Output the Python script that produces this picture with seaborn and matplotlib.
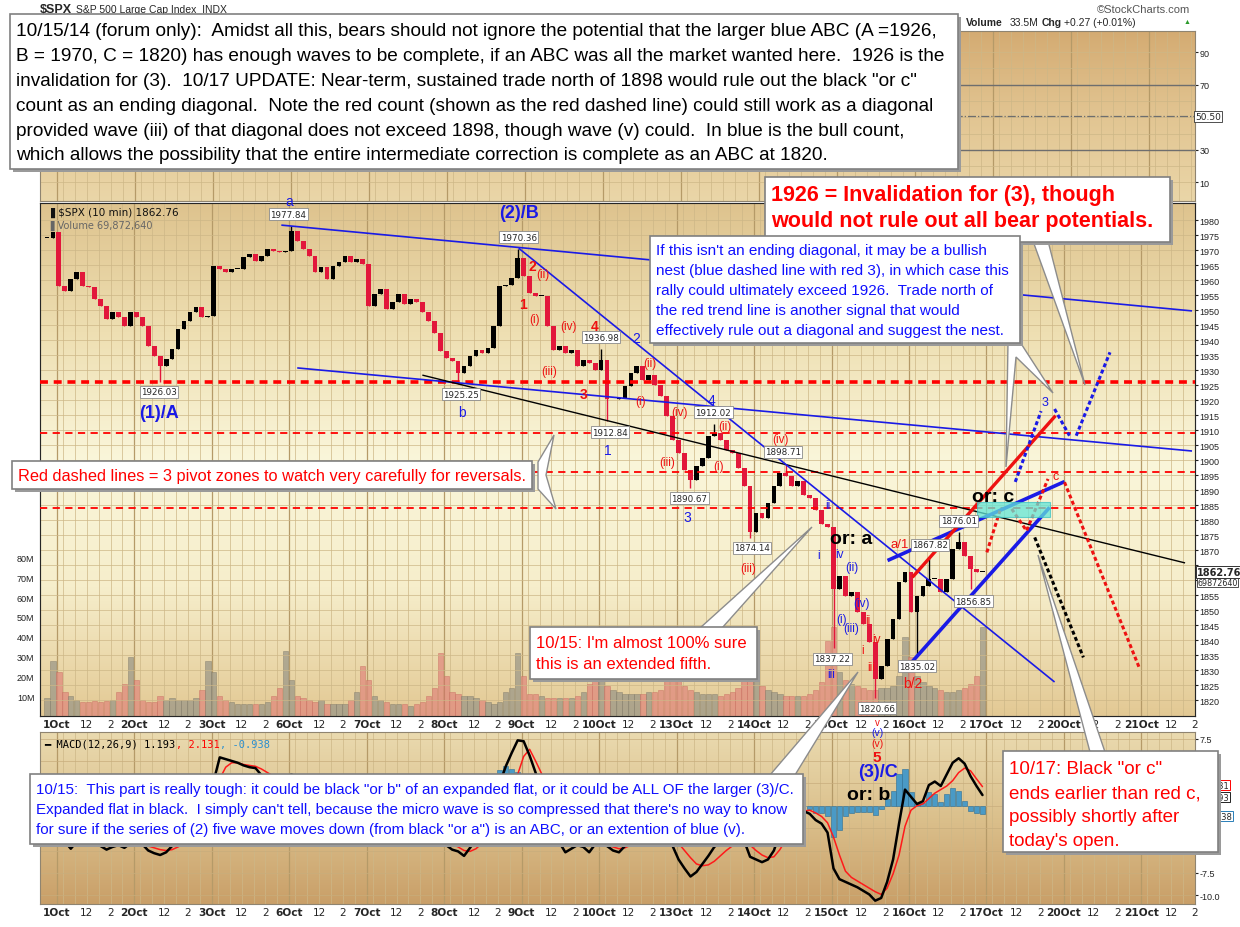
import numpy as np
import pandas as pd
import matplotlib
matplotlib.use("Agg")
import matplotlib.pyplot as plt
import seaborn as sns
from matplotlib.colors import LinearSegmentedColormap
from matplotlib.patches import Rectangle, Polygon

W, H = 1240, 928
BLUE = "#1a1ae6"
RED = "#ee1111"
ARIAL = ["Liberation Sans", "DejaVu Sans"]

# ---- data: 10-min SPX, one sample per 3 bars (13 per session) ----
day_labels = ["1Oct", "2Oct", "3Oct", "6Oct", "7Oct", "8Oct", "9Oct", "10Oct",
              "13Oct", "14Oct", "15Oct", "16Oct", "17Oct", "20Oct", "21Oct"]

close_sep30 = [1974.0, 1976.0]
close_oct01 = [1958.1, 1956.4, 1960.3, 1962.6, 1958.1, 1957.6, 1953.7, 1951.4, 1947.0, 1949.2, 1947.6, 1944.8, 1949.2]
close_oct02 = [1947.6, 1944.8, 1938.1, 1934.8, 1931.4, 1933.7, 1937.0, 1943.7, 1946.4, 1949.2, 1950.9, 1947.6, 1948.1]
close_oct03 = [1964.8, 1963.7, 1962.6, 1963.7, 1963.7, 1967.6, 1968.7, 1966.4, 1968.1, 1970.3, 1969.8, 1969.2, 1969.8]
close_oct06 = [1976.4, 1973.1, 1970.3, 1968.1, 1962.6, 1964.2, 1960.3, 1964.8, 1965.9, 1968.1, 1965.9, 1967.0, 1965.3]
close_oct07 = [1951.4, 1955.3, 1957.0, 1950.3, 1952.6, 1955.3, 1952.0, 1953.7, 1952.6, 1949.2, 1946.3, 1942.4, 1936.3]
close_oct08 = [1934.0, 1932.9, 1929.0, 1931.3, 1934.6, 1936.8, 1935.7, 1937.4, 1944.6, 1957.9, 1958.5, 1960.7, 1967.4]
close_oct09 = [1961.3, 1955.7, 1954.6, 1954.6, 1944.6, 1936.8, 1937.9, 1935.7, 1936.8, 1931.3, 1933.5, 1932.4, 1930.1]
close_oct10 = [1933.5, 1920.2, 1920.2, 1920.7, 1924.6, 1929.0, 1931.3, 1926.8, 1928.5, 1925.1, 1921.3, 1914.6, 1906.8]
close_oct13 = [1902.4, 1896.8, 1893.5, 1898.0, 1900.7, 1907.9, 1909.0, 1906.8, 1903.5, 1902.4, 1897.4, 1891.3, 1876.0]
close_oct14 = [1882.4, 1880.7, 1885.7, 1891.3, 1895.7, 1894.6, 1891.3, 1892.9, 1888.5, 1887.4, 1883.2, 1878.7, 1877.6]
close_oct15 = [1857.0, 1861.5, 1854.8, 1856.0, 1849.3, 1845.4, 1839.3, 1827.0, 1831.5, 1840.4, 1847.0, 1859.3, 1862.6]
close_oct16 = [1849.3, 1854.8, 1858.1, 1860.4, 1860.4, 1856.0, 1860.4, 1870.4, 1872.6, 1868.1, 1863.7, 1862.6, 1862.76]

# volume in millions
vol_sep30 = [9, 28]
vol_oct01 = [22, 12, 10, 8, 7, 7, 7.5, 7, 7.5, 8, 12, 16, 30]
vol_oct02 = [18, 8, 7, 7, 10, 8, 9, 8, 8, 8, 9, 13, 28]
vol_oct03 = [22, 10, 8, 7, 6, 6, 6, 6, 6, 7, 10, 14, 33]
vol_oct06 = [18, 10, 9, 8, 7, 8, 6, 6, 6, 6, 8, 12, 25]
vol_oct07 = [18, 10, 8, 7, 6, 6, 6, 5, 6, 7, 10, 14, 32]
vol_oct08 = [20, 12, 11, 10, 10, 9, 8, 7, 6, 7, 12, 14, 32]
vol_oct09 = [20, 11, 11, 10, 9, 9, 9, 9, 9, 10, 12, 16, 32]
vol_oct10 = [25, 15, 13, 12, 11, 11, 11, 11, 12, 12, 13, 18, 35]
vol_oct13 = [22, 15, 13, 12, 11, 11, 11, 10, 11, 12, 14, 18, 40]
vol_oct14 = [25, 15, 13, 12, 11, 10, 10, 10, 10, 11, 13, 17, 38]
vol_oct15 = [45, 22, 18, 16, 15, 14, 13, 13, 14, 14, 15, 20, 40]
vol_oct16 = [30, 20, 17, 15, 14, 13, 12, 12, 13, 14, 16, 20, 45]

macd_sep30 = [1.5, 2.0]
macd_oct01 = [-2.0, -4.0, -4.8, -4.0, -3.5, -3.6, -3.9, -4.5, -4.9, -4.6, -4.4, -4.7, -4.2]
macd_oct02 = [-4.0, -4.3, -5.0, -5.3, -5.5, -5.2, -4.5, -3.5, -2.5, -1.5, -0.8, -0.6, -0.4]
macd_oct03 = [2.8, 5.4, 5.2, 5.0, 4.8, 4.5, 4.3, 4.2, 3.4, 3.1, 3.0, 2.8, 2.8]
macd_oct06 = [3.5, 3.2, 2.6, 1.8, 0.6, 0.0, -0.8, -0.6, -0.3, 0.2, 0.2, 0.3, 0.1]
macd_oct07 = [-2.0, -2.5, -2.6, -3.0, -3.0, -2.8, -2.9, -2.9, -2.9, -3.1, -3.3, -3.7, -4.2]
macd_oct08 = [-4.4, -4.9, -5.1, -5.6, -4.7, -3.8, -2.8, -2.2, -0.5, 2.5, 4.4, 5.9, 7.3]
macd_oct09 = [7.2, 5.6, 3.7, 1.5, -1.0, -3.0, -4.1, -5.2, -4.8, -4.4, -4.6, -5.2, -4.3]
macd_oct10 = [-3.8, -4.5, -5.0, -5.2, -4.5, -3.5, -2.5, -2.2, -1.8, -2.0, -2.6, -3.6, -4.5]
macd_oct13 = [-6.0, -7.0, -7.9, -7.4, -6.5, -5.6, -4.6, -4.0, -3.8, -3.6, -3.4, -3.9, -5.7]
macd_oct14 = [-6.0, -6.3, -6.0, -5.0, -3.0, -1.5, -0.4, 0.0, -0.6, -0.9, -1.6, -2.0, -3.0]
macd_oct15 = [-7.0, -8.2, -8.5, -8.8, -9.1, -9.5, -9.9, -10.6, -10.3, -8.5, -6.0, -2.0, 1.8]
macd_oct16 = [1.0, 0.2, 0.5, 2.3, 2.7, 2.2, 3.5, 4.8, 5.3, 4.7, 3.3, 2.2, 1.193]

sig_sep30 = [0.8, 1.1]
sig_oct01 = [0.4, -0.5, -1.5, -2.2, -2.7, -3.0, -3.3, -3.6, -4.0, -4.2, -4.3, -4.4, -4.4]
sig_oct02 = [-4.3, -4.3, -4.5, -4.7, -4.9, -5.0, -4.9, -4.6, -4.2, -3.6, -3.0, -2.5, -2.1]
sig_oct03 = [0.5, 3.0, 4.3, 4.8, 4.8, 4.6, 4.5, 4.4, 4.1, 3.7, 3.3, 3.0, 2.8]
sig_oct06 = [3.0, 3.0, 2.9, 2.6, 2.0, 1.5, 0.8, 0.3, 0.0, -0.1, 0.0, 0.1, 0.1]
sig_oct07 = [-0.4, -1.1, -1.7, -2.2, -2.6, -2.7, -2.8, -2.8, -2.9, -2.9, -3.0, -3.3, -3.6]
sig_oct08 = [-4.0, -4.3, -4.6, -5.0, -5.1, -4.8, -4.2, -3.6, -2.8, -1.5, 0.0, 1.8, 3.5]
sig_oct09 = [5.5, 6.3, 5.0, 3.6, 2.0, 0.3, -1.2, -2.5, -3.3, -3.8, -4.1, -4.4, -4.5]
sig_oct10 = [-4.4, -4.4, -4.6, -4.8, -4.7, -4.4, -3.9, -3.4, -3.0, -2.7, -2.6, -2.9, -3.5]
sig_oct13 = [-4.2, -5.0, -5.8, -6.5, -6.7, -6.6, -6.2, -5.6, -5.0, -4.5, -4.1, -3.9, -4.4]
sig_oct14 = [-5.0, -5.5, -5.8, -5.7, -4.9, -3.8, -2.5, -1.3, -0.6, -0.5, -0.8, -1.2, -1.9]
sig_oct15 = [-3.5, -5.5, -7.3, -8.0, -8.4, -8.8, -9.2, -9.6, -9.9, -9.2, -7.6, -5.5, -2.3]
sig_oct16 = [-0.5, 0.0, 0.2, 0.8, 1.4, 1.8, 2.2, 2.8, 3.7, 4.2, 3.9, 3.0, 2.131]

# labelled extremes (bar index, price) used as candle wicks
extremes = [(117, 1977.84), (52.5, 1926.03), (232.5, 1970.36), (203.5, 1925.25),
            (274, 1936.98), (278.5, 1912.84), (330.5, 1912.02), (318.5, 1890.67),
            (366.5, 1898.71), (350, 1874.14), (390.5, 1837.22), (413, 1820.66),
            (438, 1867.82), (454, 1876.01), (433, 1835.02), (461.5, 1856.85)]

pivot_lines = [(1926, 2.6), (1909, 1.3), (1896, 1.3), (1884, 1.3)]

trend_lines = [
    ((113, 1978.3), (571.5, 1949.7), BLUE, 1.2),
    ((121, 1930.7), (571.5, 1903.0), BLUE, 1.2),
    ((184, 1928.3), (568, 1865.7), "black", 1.0),
    ((232.5, 1970.6), (502.3, 1826.0), BLUE, 1.2),
    ((418.2, 1866.5), (507.3, 1892.8), BLUE, 2.6),
    ((427.3, 1830.3), (499.8, 1884.2), BLUE, 2.6),
    ((430.7, 1860.9), (502.8, 1914.8), RED, 2.4),
]
proj_paths = [
    ([482.5, 495.5], [1892.7, 1916.3], BLUE),
    ([502.3, 509.8], [1917.0, 1908.1], BLUE),
    ([513.2, 530.2], [1908.1, 1935.9], BLUE),
    ([468.2, 474.8], [1869.2, 1883.1], RED),
    ([480.7, 488.2, 499.0], [1883.7, 1876.4, 1893.7], RED),
    ([507.3, 544.8], [1892.6, 1831.0], RED),
    ([492.3, 516.8], [1874.2, 1834.2], "black"),
]

wave_labels = [
    ("a", 117, 1986.3, BLUE, 10, "normal"), ("(2)/B", 232.5, 1982.5, BLUE, 13, "bold"),
    ("2", 239.5, 1964.7, RED, 10, "bold"), ("(ii)", 244.5, 1962, RED, 8.5, "normal"),
    ("1", 234.5, 1952, RED, 10, "bold"), ("(i)", 240.5, 1947, RED, 8.5, "normal"),
    ("(iv)", 257.5, 1944.7, RED, 8.5, "normal"), ("4", 270.5, 1944.7, RED, 10, "bold"),
    ("(iii)", 248, 1929.7, RED, 8.5, "normal"), ("2", 291.5, 1940.7, BLUE, 10, "normal"),
    ("(ii)", 298.5, 1932.3, RED, 8.5, "normal"), ("3", 265, 1922, RED, 10, "bold"),
    ("(i)", 294, 1919.7, RED, 8.5, "normal"), ("b", 204, 1916, BLUE, 10, "normal"),
    ("(1)/A", 51.5, 1916, BLUE, 13, "bold"), ("4", 329.5, 1920, BLUE, 10, "normal"),
    ("(ii)", 336.5, 1911.3, RED, 8.5, "normal"), ("(iv)", 313.5, 1916, RED, 8.5, "normal"),
    ("1", 277.5, 1903.3, BLUE, 10, "normal"), ("(iii)", 307.5, 1899.3, RED, 8.5, "normal"),
    ("(i)", 333, 1898, RED, 8.5, "normal"), ("(iv)", 364.5, 1907, RED, 8.5, "normal"),
    ("3", 317.5, 1881, BLUE, 10, "normal"), ("(iii)", 348, 1864, RED, 8.5, "normal"),
    ("ii", 388, 1885, BLUE, 8.5, "normal"), ("i", 383.5, 1868.3, BLUE, 8.5, "normal"),
    ("or: a", 400, 1873.7, "black", 14, "bold"), ("iv", 394, 1868.7, BLUE, 8.5, "normal"),
    ("(ii)", 400.5, 1864.3, BLUE, 8.5, "normal"), ("(i)", 395, 1847, BLUE, 8.5, "normal"),
    ("(iv)", 405, 1852.3, BLUE, 8.5, "normal"), ("ii", 408.5, 1846.7, RED, 8.5, "normal"),
    ("(iii)", 400, 1844, BLUE, 8.5, "normal"), ("iv", 412.5, 1840.3, RED, 8.5, "normal"),
    ("i", 405.5, 1836.7, RED, 8.5, "normal"), ("iii", 410, 1831, RED, 8.5, "normal"),
    ("iii", 390, 1828.7, BLUE, 8.5, "normal"), ("a/1", 424.3, 1872, RED, 9.5, "normal"),
    ("b/2", 431, 1825.7, RED, 10, "normal"), ("or: c", 471.5, 1888, "black", 14, "bold"),
    ("c", 503, 1894.7, RED, 9, "normal"), ("3", 497.5, 1919.3, BLUE, 9, "normal"),
]
price_tags = [("1977.84", 116.5, 1982), ("1970.36", 232.5, 1974.3), ("1936.98", 274, 1941),
              ("1925.25", 203.5, 1922), ("1926.03", 51.5, 1922.7), ("1912.02", 330.5, 1916),
              ("1912.84", 278.5, 1909.3), ("1898.71", 365.5, 1902.7), ("1890.67", 318.5, 1887.3),
              ("1874.14", 350, 1870.7), ("1837.22", 390.5, 1833.7), ("1820.66", 413, 1817.3),
              ("1867.82", 439.5, 1871.7), ("1876.01", 454, 1879.7), ("1856.85", 461.5, 1853),
              ("1835.02", 433, 1831.3)]
macd_labels = [("v", 413, 9.4, RED, 7, "normal"), ("(v)", 413, 8.2, BLUE, 7.5, "normal"),
               ("(v)", 413, 7.0, RED, 7.5, "normal"), ("5", 413, 5.4, RED, 11, "bold"),
               ("(3)/C", 413.5, 3.8, BLUE, 13, "bold"), ("or: b", 408.5, 1.2, "black", 14, "bold")]

# ---- assemble table ----
closes = [close_oct01, close_oct02, close_oct03, close_oct06, close_oct07, close_oct08,
          close_oct09, close_oct10, close_oct13, close_oct14, close_oct15, close_oct16]
vols = [vol_oct01, vol_oct02, vol_oct03, vol_oct06, vol_oct07, vol_oct08,
        vol_oct09, vol_oct10, vol_oct13, vol_oct14, vol_oct15, vol_oct16]
macds = [macd_oct01, macd_oct02, macd_oct03, macd_oct06, macd_oct07, macd_oct08,
         macd_oct09, macd_oct10, macd_oct13, macd_oct14, macd_oct15, macd_oct16]
sigs = [sig_oct01, sig_oct02, sig_oct03, sig_oct06, sig_oct07, sig_oct08,
        sig_oct09, sig_oct10, sig_oct13, sig_oct14, sig_oct15, sig_oct16]

bars = [-5, -2]
for d in range(12):
    bars += [39 * d + 3 * j + 1 for j in range(13)]
df = pd.DataFrame({
    "bar": bars,
    "close": close_sep30 + sum(closes, []),
    "volume": vol_sep30 + sum(vols, []),
    "macd": macd_sep30 + sum(macds, []),
    "signal": sig_sep30 + sum(sigs, []),
})
df["open"] = df["close"].shift(1).fillna(df["close"])
df["high"] = df[["open", "close"]].max(axis=1)
df["low"] = df[["open", "close"]].min(axis=1)
for b, p in extremes:
    k = (df["bar"] - b).abs().idxmin()
    df.loc[k, "high"] = max(df.loc[k, "high"], p)
    df.loc[k, "low"] = min(df.loc[k, "low"], p)
df["up"] = df["close"] >= df["open"]
df["hist"] = df["macd"] - df["signal"]

# ---- figure ----
sns.set_style("white")
plt.rcParams["font.family"] = ARIAL
fig = plt.figure(figsize=(W / 100, H / 100), dpi=100)


def rect(x0, y0, x1, y1):
    return [x0 / W, 1 - y1 / H, (x1 - x0) / W, (y1 - y0) / H]


def fp(x, y):
    return (x / W, 1 - y / H)


def gradient(axx, stops):
    cmap = LinearSegmentedColormap.from_list("g", stops)
    axx.imshow(np.linspace(0, 1, 256).reshape(-1, 1), aspect="auto", cmap=cmap,
               extent=(0, 1, 0, 1), transform=axx.transAxes, zorder=-10)


XMIN, XMAX = -8.5, 569
ax_rsi = fig.add_axes(rect(40, 32, 1195, 202))
ax_vol = fig.add_axes(rect(40, 204, 1195, 717))
ax = fig.add_axes(rect(40, 204, 1195, 717), sharex=ax_vol)
ax.patch.set_visible(False)
ax_macd = fig.add_axes(rect(40, 733, 1195, 905))

gradient(ax_rsi, ["#d4ab72", "#e2c592", "#ead6a8"])
gradient(ax_vol, ["#dec38e", "#eedfb2", "#faf6da", "#f6eecb", "#e3c994"])
gradient(ax_macd, ["#eadaaf", "#dbc08c", "#c99f68"])

ticks, tick_labels = [], []
for d, name in enumerate(day_labels):
    ticks += [39 * d, 39 * d + 15, 39 * d + 27]
    tick_labels += [name, "12", "2"]

for axx in (ax_rsi, ax_vol, ax_macd):
    for d in range(15):
        axx.axvline(39 * d, color="#b59a68", lw=0.9, zorder=-5)
        for off in (3, 9, 15, 21, 27, 33):
            axx.axvline(39 * d + off, color="#cdb787", lw=0.5, zorder=-5)
    for s in axx.spines.values():
        s.set_color("#8f8470")
        s.set_linewidth(0.8)
    axx.set_xlim(XMIN, XMAX)

# RSI panel (only its guide lines show)
ax_rsi.set_ylim(-1.4, 102.9)
for v in range(10, 100, 10):
    ax_rsi.axhline(v, color="#cdb787", lw=0.5, zorder=-5)
ax_rsi.axhline(70, color="#6e6e6e", lw=1.0)
ax_rsi.axhline(30, color="#6e6e6e", lw=1.0)
ax_rsi.axhline(50.5, color="#6e6e6e", lw=0.9, ls="-.")
ax_rsi.set_xticks([])
ax_rsi.yaxis.tick_right()
ax_rsi.set_yticks([90, 70, 30, 10])
ax_rsi.tick_params(axis="y", labelsize=6.5, length=2, pad=1, colors="#222222")
ax_rsi.text(1.0, 50.5, "50.50", transform=ax_rsi.get_yaxis_transform(), fontsize=6.5,
            family="DejaVu Sans", va="center", ha="left",
            bbox=dict(boxstyle="square,pad=0.12", fc="white", ec="#333333", lw=0.6))

# volume (bottom of price panel)
vol_colors = np.where(df["up"], "#9c9888", "#e08a7e")
ax_vol.bar(df["bar"], df["volume"], width=2.7, color=vol_colors, alpha=0.75,
           edgecolor=np.where(df["up"], "#7d7868", "#c86a5e"), linewidth=0.4, zorder=1)
ax_vol.set_ylim(0, 259)
ax_vol.set_yticks([10, 20, 30, 40, 50, 60, 70, 80])
ax_vol.set_yticklabels([f"{v}M" for v in range(10, 90, 10)])
ax_vol.tick_params(axis="y", labelsize=6.5, length=3, pad=1, colors="#222222")
ax_vol.set_xticks(ticks)
ax_vol.set_xticklabels(tick_labels)
ax_vol.tick_params(axis="x", length=0, pad=2, labelsize=7.6)

# price
for p in range(1820, 1985, 5):
    ax.axhline(p, color="#cdb787", lw=0.5, zorder=0)
colors = np.where(df["up"], "black", "#e2173b")
ax.vlines(df["bar"], df["low"], df["high"], colors=colors, lw=1.0, zorder=3)
ax.bar(df["bar"], (df["close"] - df["open"]).abs().clip(lower=0.3),
       bottom=df[["open", "close"]].min(axis=1), width=2.4, color=colors, lw=0, zorder=3)
ax.set_ylim(1814.67, 1985.67)
ax.yaxis.tick_right()
price_ticks = list(range(1820, 1981, 5))
ax.set_yticks(price_ticks)
# 1860/1865 sit under the last-value tags
ax.set_yticklabels(["" if p in (1860, 1865) else str(p) for p in price_ticks])
ax.tick_params(axis="y", labelsize=6.5, length=2, pad=1, colors="#222222")
ax.tick_params(axis="x", bottom=False, labelbottom=False)

for p, lw in pivot_lines:
    ax.axhline(p, color="#ff0000", lw=lw, ls=(0, (2.2, 1.6)) if lw > 2 else (0, (4, 3)), zorder=4)
for (x0, y0), (x1, y1), c, lw in trend_lines:
    ax.plot([x0, x1], [y0, y1], color=c, lw=lw, zorder=4, solid_capstyle="butt")
for xs, ys, c in proj_paths:
    ax.plot(xs, ys, color=c, lw=2.2, ls=(0, (1.3, 0.9)), zorder=4)
ax.add_patch(Rectangle((463.2, 1880.9), 37, 5.0, fc="#63e6d8", ec="#3cc4c4", lw=0.8,
                       alpha=0.75, zorder=4))

for s, x, y, c, fs, fw in wave_labels:
    ax.text(x, y, s, color=c, fontsize=fs, fontweight=fw, ha="center", va="center",
            family=ARIAL, zorder=6)
for s, x, y in price_tags:
    ax.text(x, y, s, fontsize=6.3, family="DejaVu Sans", ha="center", va="center", zorder=6,
            bbox=dict(boxstyle="square,pad=0.15", fc="white", ec="#8a8a8a", lw=0.6))
ax.text(1.002, 1862.76, "1862.76", transform=ax.get_yaxis_transform(), fontsize=7,
        fontweight="bold", family="DejaVu Sans", va="center", ha="left", zorder=7,
        bbox=dict(boxstyle="square,pad=0.1", fc="white", ec="#333333", lw=0.7))
ax.text(1.002, 1859.3, "69872640", transform=ax.get_yaxis_transform(), fontsize=5.8,
        family="DejaVu Sans", va="center", ha="left", zorder=6,
        bbox=dict(boxstyle="square,pad=0.08", fc="white", ec="#333333", lw=0.6))

# MACD
ax_macd.set_ylim(-10.97, 8.23)
for m in np.arange(-10, 8, 2.5):
    ax_macd.axhline(m, color="#c8ad7c", lw=0.5, zorder=-5)
ax_macd.bar(df["bar"], df["hist"], width=2.6, color="#4a9ac6", edgecolor="#2c6e94",
            linewidth=0.4, zorder=1)
sns.lineplot(data=df, x="bar", y="signal", ax=ax_macd, color="#ff1a1a", lw=1.1, zorder=2)
sns.lineplot(data=df, x="bar", y="macd", ax=ax_macd, color="black", lw=1.8, zorder=3)
ax_macd.set_xlim(XMIN, XMAX)
ax_macd.set_xlabel("")
ax_macd.set_ylabel("")
ax_macd.yaxis.tick_right()
ax_macd.set_yticks([7.5, 5, 2.5, 0, -2.5, -5, -7.5, -10])
# 2.5 / -2.5 are covered by the last-value tags
ax_macd.set_yticklabels(["7.5", "5.0", "", "0.0", "", "-5.0", "-7.5", "-10.0"])
ax_macd.tick_params(axis="y", labelsize=6.5, length=2, pad=1, colors="#222222")
ax_macd.set_xticks(ticks)
ax_macd.set_xticklabels(tick_labels)
ax_macd.tick_params(axis="x", length=0, pad=2, labelsize=7.6)
for axx in (ax_vol, ax_macd):
    for lab in axx.get_xticklabels():
        if lab.get_text() not in ("12", "2"):
            lab.set_fontweight("bold")
        lab.set_family("DejaVu Sans")
for s, x, y, c, fs, fw in macd_labels:
    ax_macd.text(x, y, s, color=c, fontsize=fs, fontweight=fw, ha="center", va="center",
                 family=ARIAL, zorder=6, clip_on=False)
# last-value tags, partly tucked under the 10/17 note as in the original
for val, y, c in [("2.131", 2.3, "#ff0000"), ("1.193", 0.95, "#222222"), ("-0.938", -1.2, "#2a7fb8")]:
    ax_macd.text(1.009, y, val, transform=ax_macd.get_yaxis_transform(), fontsize=6.0,
                 family="DejaVu Sans", va="center", ha="left", zorder=6,
                 bbox=dict(boxstyle="square,pad=0.06", fc="white", ec=c, lw=0.7))

# legends / headers
fig.text(*fp(47, 213), "\u2590 $SPX (10 min) 1862.76", fontsize=7.5, family="DejaVu Sans",
         va="center", color="#111111")
fig.text(*fp(47, 226), "\u2590 Volume 69,872,640", fontsize=7, family="DejaVu Sans",
         va="center", color="#666666")
mx = 44
for part, c in [("\u2501 MACD(12,26,9) 1.193", "black"), (", 2.131", "#ff0000"), (", -0.938", "#2a8fd0")]:
    fig.text(*fp(mx, 745), part, fontsize=7.5, family="DejaVu Sans Mono", va="center", color=c)
    mx += len(part) * 6.27
fig.text(*fp(40, 10), "$SPX", fontsize=9, fontweight="bold", va="center")
fig.text(*fp(76, 10), "S&P 500 Large Cap Index  INDX", fontsize=7.5, va="center")
fig.text(*fp(1190, 10), "\u00a9StockCharts.com", fontsize=8, va="center", ha="right", color="#555555")
for part, x, fw in [("Volume", 966, "bold"), ("33.5M", 1010, "normal"), ("Chg", 1042, "bold"),
                    ("+0.27 (+0.01%)", 1064, "normal")]:
    fig.text(*fp(x, 23), part, fontsize=7.5, fontweight=fw, va="center")
fig.text(*fp(1184, 23), "\u25b2", fontsize=5, va="center", color="#2a9a2a")


# ---- callout boxes ----
def pointer(pts):
    fig.add_artist(Polygon([fp(x, y) for x, y in pts], closed=True, transform=fig.transFigure,
                           fc="white", ec="#8c8c8c", lw=1.0, zorder=19))


def box(x0, y0, x1, y1, lines, color, size, first, step, weight="normal", pad=6):
    fig.add_artist(Rectangle(fp(x0 + 3, y1 + 3), (x1 - x0) / W, (y1 - y0) / H,
                             transform=fig.transFigure, fc="#9a9a9a", ec="none", zorder=20))
    fig.add_artist(Rectangle(fp(x0, y1), (x1 - x0) / W, (y1 - y0) / H,
                             transform=fig.transFigure, fc="white", ec="#808080", lw=1.2,
                             zorder=21))
    for i, line in enumerate(lines):
        fig.text(*fp(x0 + pad, first + i * step), line, color=color, fontsize=size,
                 family=ARIAL, fontweight=weight, va="center", ha="left", zorder=22)


pointer([(538, 463), (554, 436), (546, 476), (556, 510), (538, 490)])
pointer([(700, 629), (812, 528), (722, 629)])
pointer([(770, 776), (858, 673), (795, 776)])
pointer([(1008, 343), (1006, 468), (1016, 358), (1053, 394), (1020, 343)])
pointer([(1033, 242), (1085, 386), (1048, 242)])
pointer([(1090, 753), (1038, 556), (1105, 753)])

box(10, 15, 958, 170, [
    "10/15/14 (forum only):  Amidst all this, bears should not ignore the potential that the larger blue ABC (A =1926,",
    "B = 1970, C = 1820) has enough waves to be complete, if an ABC was all the market wanted here.  1926 is the",
    "invalidation for (3).  10/17 UPDATE: Near-term, sustained trade north of 1898 would rule out the black \"or c\"",
    "count as an ending diagonal.  Note the red count (shown as the red dashed line) could still work as a diagonal",
    "provided wave (iii) of that diagonal does not exceed 1898, though wave (v) could.  In blue is the bull count,",
    "which allows the possibility that the entire intermediate correction is complete as an ABC at 1820.",
], "black", 13.7, 32, 24.8)
box(765, 178, 1170, 243, ["1926 = Invalidation for (3), though",
                          "would not rule out all bear potentials."],
    "#ff0000", 15.5, 196, 25, weight="bold")
box(650, 237, 1020, 344, [
    "If this isn't an ending diagonal, it may be a bullish",
    "nest (blue dashed line with red 3), in which case this",
    "rally could ultimately exceed 1926.  Trade north of",
    "the red trend line is another signal that would",
    "effectively rule out a diagonal and suggest the nest.",
], "#1010ff", 11.0, 251, 20)
box(12, 462, 532, 490, ["Red dashed lines = 3 pivot zones to watch very carefully for reversals."],
    "#ff0000", 11.8, 476, 20)
box(530, 628, 757, 680, ["10/15: I'm almost 100% sure", "this is an extended fifth."],
    "#ff0000", 12.0, 643, 22)
box(30, 775, 803, 845, [
    "10/15:  This part is really tough: it could be black \"or b\" of an expanded flat, or it could be ALL OF the larger (3)/C.",
    "Expanded flat in black.  I simply can't tell, because the micro wave is so compressed that there's no way to know",
    "for sure if the series of (2) five wave moves down (from black \"or a\") is an ABC, or an extention of blue (v).",
], "#1010ff", 10.9, 790, 20)
box(1003, 752, 1218, 853, ["10/17: Black \"or c\"", "ends earlier than red c,",
                           "possibly shortly after", "today's open."],
    "#ff0000", 13.5, 770, 24)

fig.savefig("out.png", dpi=100, facecolor="white")
